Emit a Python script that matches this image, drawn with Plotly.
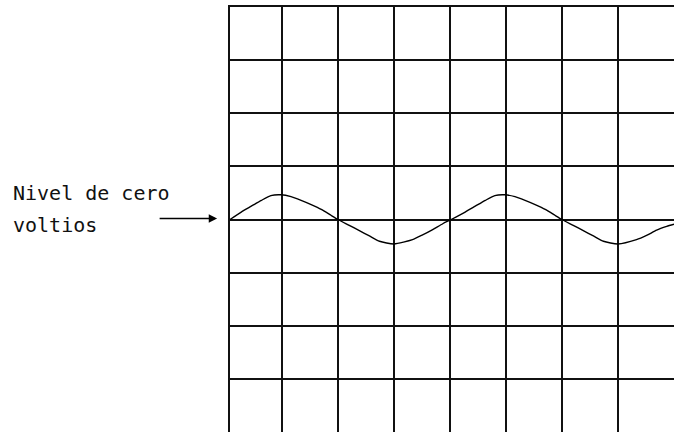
import plotly.graph_objects as go

# trace on the oscilloscope screen, in screen divisions
wave_x = [0.07, 0.27, 0.45, 0.63, 0.80, 0.98, 1.16, 1.34, 1.52, 1.70, 1.88, 2.00,
          2.20, 2.38, 2.56, 2.74, 3.00, 3.33, 3.51, 3.69, 3.87, 4.02,
          4.27, 4.45, 4.63, 4.80, 4.98, 5.16, 5.34, 5.52, 5.70, 5.88, 6.00,
          6.20, 6.38, 6.56, 6.74, 7.00, 7.33, 7.51, 7.69, 7.87, 8.00]
wave_y = [0.00, 0.14, 0.25, 0.36, 0.45, 0.465, 0.43, 0.36, 0.28, 0.19, 0.075, 0.00,
          -0.11, -0.21, -0.31, -0.41, -0.46, -0.38, -0.29, -0.19, -0.08, 0.00,
          0.14, 0.25, 0.36, 0.45, 0.465, 0.43, 0.36, 0.28, 0.19, 0.075, 0.00,
          -0.11, -0.21, -0.31, -0.41, -0.46, -0.38, -0.30, -0.20, -0.13, -0.09]

grid_x = [1, 2, 3, 4, 5, 6, 7]
grid_y = [-3, -2, -1, 0, 1, 2, 3]

label_lines = ["Nivel de cero", "voltios"]

font_family = "DejaVu Sans Mono, monospace"

fig = go.Figure()
fig.add_trace(go.Scatter(
    x=wave_x, y=wave_y, mode="lines",
    line=dict(color="black", width=1.4, shape="spline", smoothing=0.6),
    hoverinfo="skip", showlegend=False,
))

# label on the left, one annotation per line
fig.add_annotation(text=label_lines[0], xref="paper", yref="y", x=-0.494, y=0.49,
                   xanchor="left", yanchor="middle", showarrow=False,
                   font=dict(family=font_family, size=20, color="#111"))
fig.add_annotation(text=label_lines[1], xref="paper", yref="y", x=-0.494, y=-0.11,
                   xanchor="left", yanchor="middle", showarrow=False,
                   font=dict(family=font_family, size=20, color="#111"))

# arrow pointing at the zero level
fig.add_annotation(text="", xref="paper", yref="y", x=-0.029, y=0.02,
                   ax=-59, ay=0, showarrow=True,
                   arrowhead=2, arrowsize=1.2, arrowwidth=1.4, arrowcolor="black")

axis_common = dict(showgrid=True, gridcolor="#111", gridwidth=1.6,
                   zeroline=False, showticklabels=False, ticks="",
                   showline=True, linecolor="#111", linewidth=1.6, mirror=False,
                   fixedrange=True)

fig.update_xaxes(range=[0.07, 8], tickmode="array", tickvals=grid_x,
                 side="top", **axis_common)
fig.update_yaxes(range=[-4, 4], tickmode="array", tickvals=grid_y, **axis_common)

fig.update_layout(
    width=674, height=432,
    margin=dict(l=230, r=0, t=7, b=0),
    paper_bgcolor="white", plot_bgcolor="white",
    font=dict(family=font_family),
)

# page body has a default margin; drop it so the figure fills the window
fig.write_html("out.html", config={"displayModeBar": False},
               post_script="document.body.style.margin='0';document.body.style.overflow='hidden';")
